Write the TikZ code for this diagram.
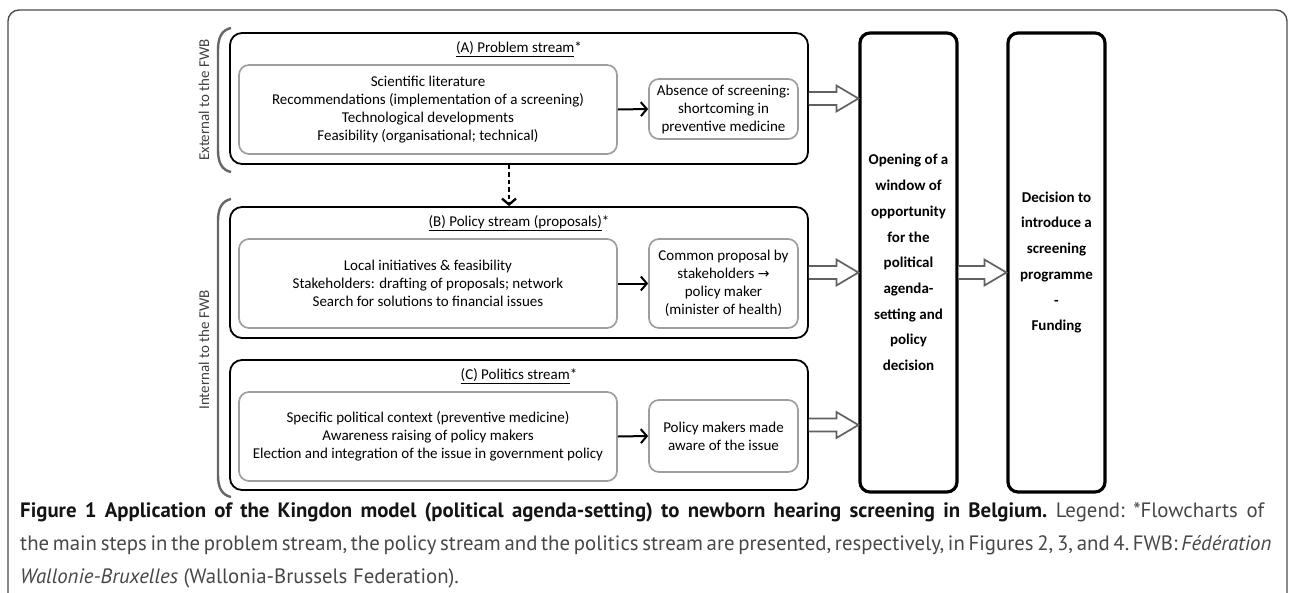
\documentclass[tikz,border=0pt]{standalone}
\usepackage{fontspec}
\setmainfont{Carlito}
\newfontfamily\capfont{PT Sans}
\newfontfamily\arrfont{DejaVu Sans}
\usetikzlibrary{arrows.meta,calc}

\tikzset{
  frame/.style={draw=black!70, line width=1.4pt, rounded corners=11pt},
  stream/.style={draw=black, line width=1.8pt, rounded corners=12pt,
    minimum width=578pt, inner sep=0pt},
  inbox/.style={draw=black!38, line width=1.7pt, rounded corners=10pt,
    align=center, inner sep=0pt, font=\fontsize{15}{18}\selectfont},
  keybox/.style={draw=black, line width=3.2pt, rounded corners=10pt,
    minimum width=97pt, minimum height=459pt, align=center, inner sep=0pt,
    font=\bfseries\fontsize{15}{25.7}\selectfont},
  streamtitle/.style={inner sep=0pt, font=\fontsize{15}{18}\selectfont},
  flow/.style={line width=2pt, -{Straight Barb[length=6pt,width=14pt]}},
  dotflow/.style={flow, line width=2.3pt, dash pattern=on 4.5pt off 3pt},
  hollow/.style={draw=black!62, fill=white, line width=1.7pt, line join=miter},
  bracket/.style={draw=black!60, line width=2.4pt},
  side/.style={rotate=90, inner sep=0pt, text=black!75,
    font=\fontsize{15}{18}\selectfont},
  caption/.style={anchor=north west, inner sep=0pt, align=left,
    font=\capfont\fontsize{20.8}{33}\selectfont\frenchspacing}
}

% wide outlined arrow from the side of #1 to the side of #2, at the height of #3
\newcommand\hollowarrow[3]{%
  \draw[hollow] ($(#1.east |- #3.east)+(0,-6.5)$)
    -- ($(#2.west |- #3.east)+(-22,-6.5)$) -- ++(0,-6.5)
    -- (#2.west |- #3.east) -- ++(-22,13) -- ++(0,-6.5)
    -- ($(#1.east |- #3.east)+(0,6.5)$);}

\begin{document}
\begin{tikzpicture}[x=1pt,y=-1pt]
\useasboundingbox (0,0) rectangle (1290,592);
\clip (0,0) rectangle (1290,592);

% outer frame, open at the bottom
\draw[frame] (8,640) -- (8,10) -- (1287,10) -- (1287,640);

% the three streams
\node[stream, minimum height=131pt] (A) at (519,98.5) {};
\node[stream, minimum height=131pt] (B) at (519,272.5) {};
\node[stream, minimum height=130pt] (C) at (519,425) {};

\node[streamtitle] (At) at (519,49) {\underline{(A) Problem stream}*};
\node[streamtitle] (Bt) at (519,223) {\underline{(B) Policy stream (proposals)}*};
\node[streamtitle] (Ct) at (519,376) {\underline{(C) Politics stream}*};

\node[inbox, minimum width=378pt, minimum height=89pt] (Ain) at (428,109.5)
  {Scientific literature\\Recommendations (implementation of a screening)\\
   Technological developments\\Feasibility (organisational; technical)};
\node[inbox, minimum width=149pt, minimum height=60pt] (Aout) at (723.5,109)
  {Absence of screening:\\shortcoming in\\preventive medicine};

\node[inbox, minimum width=378pt, minimum height=89pt] (Bin) at (428,283.5)
  {Local initiatives \& feasibility\\Stakeholders: drafting of proposals; network\\
   Search for solutions to financial issues};
\node[inbox, minimum width=149pt, minimum height=89pt] (Bout) at (723.5,283.5)
  {Common proposal by\\stakeholders {\arrfont\fontsize{14}{18}\selectfont →}\\
   policy maker\\(minister of health)};

\node[inbox, minimum width=378pt, minimum height=89pt] (Cin) at (428,436.5)
  {Specific political context (preventive medicine)\\
   Awareness raising of policy makers\\
   Election and integration of the issue in government policy};
\node[inbox, minimum width=149pt, minimum height=72pt] (Cout) at (723.5,436)
  {Policy makers made\\aware of the issue};

% window of opportunity and outcome
\node[keybox] (open) at (908.5,262.5)
  {Opening of a\\window of\\opportunity\\for the\\political\\agenda-\\setting and\\policy\\decision};
\node[keybox] (dec) at (1056.5,262.5)
  {Decision to\\introduce a\\screening\\programme\\-\\Funding};

% connectors
\draw[flow] (Ain.east) -- (Aout.west);
\draw[flow] (Bin.east) -- (Bout.west);
\draw[flow] (Cin.east) -- (Cout.west);
\draw[dotflow] ($(A.south)+(-10,0)$) -- ($(B.north)+(-10,0)$);

\hollowarrow{A}{open}{A}
\hollowarrow{B}{open}{B}
\hollowarrow{C}{open}{C}
\hollowarrow{open}{dec}{B}

% side brackets
\draw[bracket] (231,28) .. controls (222,30) and (218,37) .. (218,50)
  -- (218,150) .. controls (218,163) and (222,170) .. (231,172);
\node[side] (ext) at (204,100) {External to the FWB};
\draw[bracket] (231,199) .. controls (222,201) and (218,208) .. (218,221)
  -- (218,475) .. controls (218,488) and (222,495) .. (231,497);
\node[side] (int) at (204,350) {Internal to the FWB};

% caption
\node[caption] (cap) at (20,502)
  {\makebox[1244pt][s]{\textcolor{black!92}{\textbf{Figure 1 Application of the Kingdon model (political agenda-setting) to newborn hearing screening in Belgium.}} \textcolor{black!72}{Legend: *Flowcharts of}}\\
   \textcolor{black!72}{\makebox[1244pt][s]{the main steps in the problem stream, the policy stream and the politics stream are presented, respectively, in Figures 2, 3, and 4. FWB: \textit{Fédération}}}\\
   \textcolor{black!72}{\textit{Wallonie-Bruxelles} (Wallonia-Brussels Federation).}};
\end{tikzpicture}
\end{document}
